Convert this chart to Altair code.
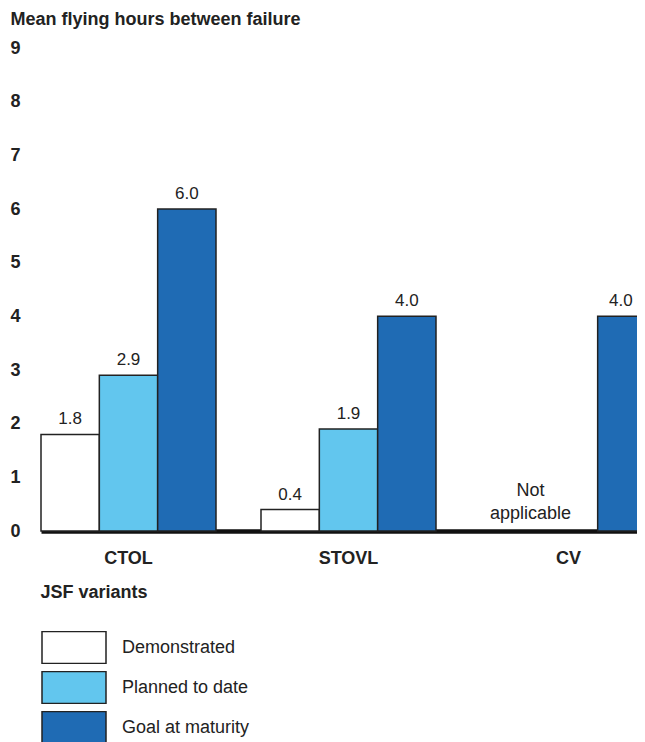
import altair as alt
import pandas as pd

variants = ["CTOL", "STOVL", "CV"]
series = ["Demonstrated", "Planned to date", "Goal at maturity"]
demonstrated = [1.8, 0.4, None]
planned = [2.9, 1.9, None]
goal = [6.0, 4.0, 4.0]
colors = ["#ffffff", "#62c6ee", "#1f6bb4"]
y_ticks = [0, 1, 2, 3, 4, 5, 6, 7, 8, 9]
na_variant = "CV"
na_text = ["Not", "applicable"]

rows = []
for i, v in enumerate(variants):
    for s, vals in zip(series, [demonstrated, planned, goal]):
        if vals[i] is not None:
            rows.append({"variant": v, "series": s, "value": vals[i]})
df = pd.DataFrame(rows)
na_df = pd.DataFrame({"variant": [na_variant], "label": [na_text]})

FONT = "Liberation Sans"
TXT = "#222222"

x_enc = alt.X(
    "variant:N",
    sort=variants,
    scale=alt.Scale(domain=variants, range=[0, 615], paddingInner=45 / 220, paddingOuter=0),
    axis=alt.Axis(
        title="JSF variants",
        titleX=-1, titleY=66, titleAlign="left", titleBaseline="alphabetic", titleAnchor="start",
        titleFont=FONT, titleFontSize=18, titleFontWeight="bold", titleColor=TXT,
        labelFont=FONT, labelFontSize=18, labelFontWeight="bold", labelColor=TXT,
        labelPadding=18, labelAngle=0,
        ticks=False, tickSize=0, grid=False,
        domain=True, domainWidth=4.5, domainColor="#111111",
    ),
)
y_enc = alt.Y(
    "value:Q",
    scale=alt.Scale(domain=[0, 9], nice=False),
    axis=alt.Axis(
        values=y_ticks, format="d",
        title="Mean flying hours between failure",
        titleAngle=0, titleX=-31, titleY=-24, titleAlign="left", titleBaseline="alphabetic",
        titleFont=FONT, titleFontSize=18, titleFontWeight="bold", titleColor=TXT,
        labelFont=FONT, labelFontSize=18, labelFontWeight="bold", labelColor=TXT,
        labelPadding=21, labelBaseline="middle",
        ticks=False, tickSize=0, grid=False, domain=False,
    ),
)
xoff = alt.XOffset("series:N", sort=series, scale=alt.Scale(domain=series, paddingInner=0, paddingOuter=0))

bars = alt.Chart(df).mark_bar(stroke="#222222", strokeWidth=1.5).encode(
    x=x_enc,
    xOffset=xoff,
    y=y_enc,
    fill=alt.Fill(
        "series:N",
        sort=series,
        scale=alt.Scale(domain=series, range=colors),
        legend=alt.Legend(
            title=None, orient="none", legendX=0, legendY=583, direction="vertical",
            padding=0, symbolType="M-1,-0.5H1V0.5H-1Z", symbolSize=4096,
            symbolStrokeColor="#222222", symbolStrokeWidth=1.5, symbolOpacity=1,
            labelFont=FONT, labelFontSize=18, labelColor=TXT, labelOffset=15,
            clipHeight=33, rowPadding=7,
        ),
    ),
)

is_edge = "datum.variant === 'CV' && datum.series === 'Goal at maturity'"

labels = alt.Chart(df).transform_filter(f"!({is_edge})").mark_text(
    baseline="alphabetic", dy=-10, font=FONT, fontSize=17, color=TXT
).encode(
    x=alt.X("variant:N", sort=variants),
    xOffset=xoff,
    y="value:Q",
    text=alt.Text("value:Q", format=".1f"),
)

edge_label = alt.Chart(df).transform_filter(is_edge).mark_text(
    baseline="alphabetic", dx=-6, dy=-10, font=FONT, fontSize=17, color=TXT
).encode(
    x=alt.X("variant:N", sort=variants),
    xOffset=xoff,
    y="value:Q",
    text=alt.Text("value:Q", format=".1f"),
)

na = alt.Chart(na_df).mark_text(
    baseline="alphabetic", dx=-38, dy=-35, lineHeight=22.5, font=FONT, fontSize=18, color=TXT
).encode(
    x=alt.X("variant:N", sort=variants),
    y=alt.datum(0),
    text="label",
)

chart = alt.layer(bars, labels, edge_label, na).properties(
    width=596,
    height=483,
    autosize=alt.AutoSizeParams(type="none"),
    padding={"left": 33, "top": 40, "right": 0, "bottom": 211},
    background="#ffffff",
).configure_view(stroke=None, strokeWidth=0)

chart.save("out.html", embed_options={"renderer": "svg", "actions": False})
